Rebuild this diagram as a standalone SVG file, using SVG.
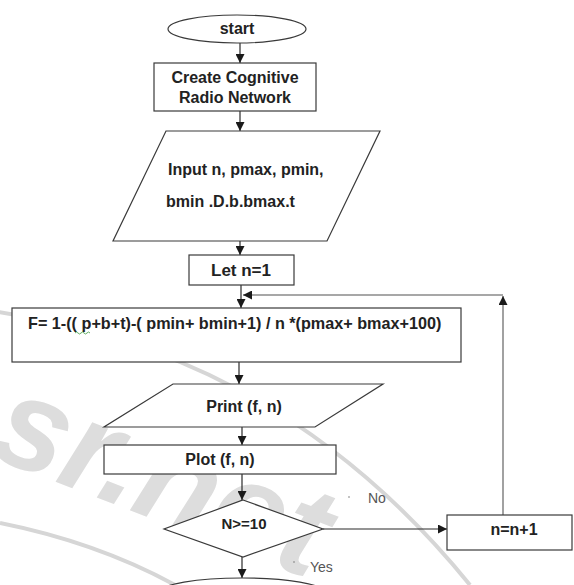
<svg xmlns="http://www.w3.org/2000/svg" width="574" height="585" viewBox="0 0 574 585">
  <defs>
    <marker id="arrow" markerUnits="userSpaceOnUse" markerWidth="10" markerHeight="9" refX="9" refY="4.5" orient="auto">
      <path d="M0,0 L9,4.5 L0,9 z" fill="#1a1a1a"/>
    </marker>
    <style>
      .shape { fill: #ffffff; stroke: #3a3a3a; stroke-width: 1.2; }
      .label { font-family: "Liberation Sans", Arial, sans-serif; font-weight: bold; font-size: 16px; fill: #222222; }
      .note { font-family: "Liberation Sans", Arial, sans-serif; font-size: 14px; fill: #555555; }
      .flow { fill: none; stroke: #2a2a2a; stroke-width: 1.2; }
      .loop { fill: none; stroke: #8a8a8a; stroke-width: 1.6; }
      .stamp { fill: none; stroke: #d6d6d6; stroke-width: 4; }
      .stamp-text { font-family: "Liberation Sans", Arial, sans-serif; font-style: italic; font-weight: bold; font-size: 130px; fill: #dddddd; }
    </style>
  </defs>

  <rect width="574" height="585" fill="#ffffff"/>

  <!-- background stamp -->
  <g id="stamp">
    <path class="stamp" d="M-2,312 C150,335 320,400 470,585"/>
    <path class="stamp" d="M0,523 C60,535 120,555 175,585"/>
    <text class="stamp-text" x="-14" y="455" transform="rotate(21 -14 455)">sr.net</text>
  </g>

  <!-- connectors -->
  <g id="connectors">
    <line class="flow" x1="240" y1="43" x2="240" y2="63" marker-end="url(#arrow)"/>
    <line class="flow" x1="240" y1="111" x2="240" y2="131" marker-end="url(#arrow)"/>
    <line class="flow" x1="240" y1="241" x2="240" y2="255" marker-end="url(#arrow)"/>
    <line class="flow" x1="241" y1="285" x2="241" y2="308" marker-end="url(#arrow)"/>
    <line class="flow" x1="239" y1="362" x2="239" y2="384" marker-end="url(#arrow)"/>
    <line class="flow" x1="242" y1="427" x2="242" y2="445" marker-end="url(#arrow)"/>
    <line class="flow" x1="242" y1="474" x2="242" y2="500" marker-end="url(#arrow)"/>
    <line class="flow" x1="242" y1="557" x2="242" y2="578" marker-end="url(#arrow)"/>
    <line class="flow" x1="323" y1="529" x2="447" y2="529" marker-end="url(#arrow)"/>
    <line class="loop" x1="503" y1="515" x2="503" y2="296" marker-end="url(#arrow)"/>
    <polyline class="loop" points="503,295 243,295" marker-end="url(#arrow)"/>
    <text class="note" x="368" y="503">No</text>
    <text class="note" x="310" y="572">Yes</text>
    <circle cx="349" cy="497" r="0.8" fill="#777"/>
    <circle cx="294" cy="562" r="0.8" fill="#777"/>
  </g>

  <g id="start">
    <ellipse class="shape" cx="237" cy="29" rx="69" ry="14"/>
    <text class="label" x="237" y="34" text-anchor="middle">start</text>
  </g>

  <g id="create-network">
    <rect class="shape" x="154" y="63" width="162" height="48"/>
    <text class="label" x="235" y="83" text-anchor="middle">Create Cognitive</text>
    <text class="label" x="235" y="103" text-anchor="middle">Radio Network</text>
  </g>

  <g id="input">
    <polygon class="shape" points="166,131 380,131 327,241 113,241"/>
    <text class="label" x="168" y="175">Input n, pmax, pmin,</text>
    <text class="label" x="166" y="207">bmin .D.b.bmax.t</text>
  </g>

  <g id="init">
    <rect class="shape" x="189" y="255" width="105" height="30"/>
    <text class="label" x="241" y="276" text-anchor="middle" style="font-size:17px">Let n=1</text>
  </g>

  <g id="formula">
    <rect class="shape" x="12" y="308" width="449" height="54"/>
    <text class="label" x="28" y="329" style="font-size:16.2px">F= 1-(( p+b+t)-( pmin+ bmin+1) / n *(pmax+ bmax+100)</text>
    <path d="M75,333 q1.5,-2 3,0 t3,0 t3,0 t3,0 t3,0" fill="none" stroke="#3c9a3c" stroke-width="0.8"/>
  </g>

  <g id="print">
    <polygon class="shape" points="173,384 383,384 315,427 104,427"/>
    <text class="label" x="244" y="412" text-anchor="middle">Print (f, n)</text>
  </g>

  <g id="plot">
    <rect class="shape" x="104" y="445" width="232" height="29"/>
    <text class="label" x="220" y="465" text-anchor="middle">Plot (f, n)</text>
  </g>

  <g id="decision">
    <polygon class="shape" points="243,500 323,529 243,557 164,529"/>
    <text class="label" x="244" y="529" text-anchor="middle" style="font-size:15px">N&gt;=10</text>
  </g>

  <g id="increment">
    <rect class="shape" x="447" y="515" width="125" height="35"/>
    <text class="label" x="514" y="535" text-anchor="middle">n=n+1</text>
  </g>

  <g id="end">
    <ellipse class="shape" cx="242" cy="592" rx="82" ry="14"/>
  </g>
</svg>
